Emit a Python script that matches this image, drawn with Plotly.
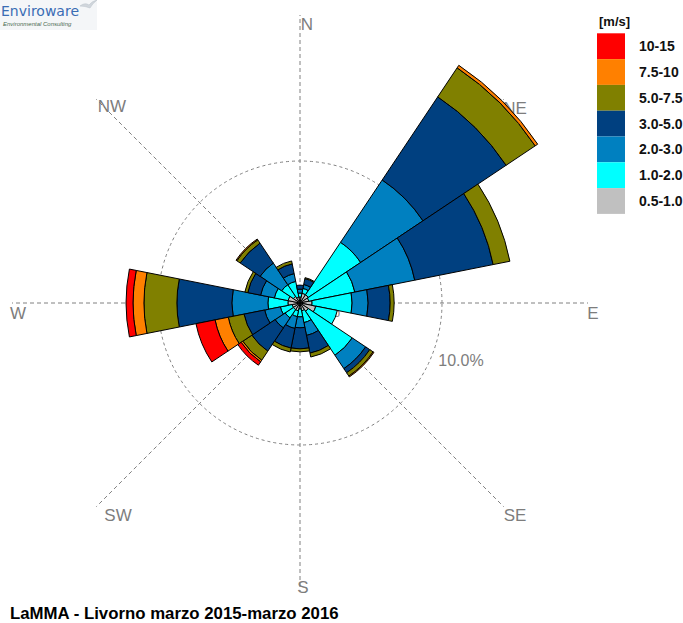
import plotly.graph_objects as go

# ---- data -------------------------------------------------------------
DIRECTIONS = ["N", "NNE", "NE", "ENE", "E", "ESE", "SE", "SSE",
              "S", "SSW", "SW", "WSW", "W", "WNW", "NW", "NNW"]
SPEED_CLASSES = ["0.5-1.0", "1.0-2.0", "2.0-3.0", "3.0-5.0", "5.0-7.5", "7.5-10", "10-15"]
CLASS_COLORS = ["#C0C0C0", "#00FFFF", "#0080C0", "#004080", "#808000", "#FF8000", "#FF0000"]

# frequency (%) of each speed class, per direction sector
FREQ_05_10 = [0.42, 0.70, 0.70, 0.63, 0.85, 1.13, 0.70, 0.56, 0.42, 0.56, 0.56, 0.56, 0.85, 0.85, 0.56, 0.42]
FREQ_10_20 = [0.28, 0.35, 4.44, 3.31, 2.82, 1.55, 3.73, 0.85, 0.56, 0.42, 0.70, 0.85, 1.41, 0.99, 0.99, 1.13]
FREQ_20_30 = [0.28, 0.28, 5.28, 4.30, 1.13, 0.00, 1.13, 0.92, 0.77, 0.85, 0.85, 1.13, 2.54, 0.99, 1.83, 0.56]
FREQ_30_50 = [0.28, 0.42, 7.04, 5.63, 1.55, 0.00, 0.35, 1.27, 1.48, 1.41, 1.97, 1.48, 3.87, 0.92, 1.69, 0.70]
FREQ_50_75 = [0.00, 0.07, 2.46, 1.20, 0.28, 0.00, 0.28, 0.28, 0.21, 0.28, 0.77, 1.13, 2.32, 0.21, 0.28, 0.21]
FREQ_75_10 = [0.00, 0.00, 0.21, 0.00, 0.00, 0.00, 0.07, 0.00, 0.00, 0.00, 0.14, 0.95, 0.77, 0.00, 0.07, 0.00]
FREQ_10_15 = [0.00, 0.00, 0.00, 0.00, 0.00, 0.00, 0.00, 0.00, 0.00, 0.00, 0.28, 1.37, 0.49, 0.00, 0.00, 0.00]

CLASS_FREQS = [FREQ_05_10, FREQ_10_20, FREQ_20_30, FREQ_30_50, FREQ_50_75, FREQ_75_10, FREQ_10_15]

RING_VALUES = [0.0, 10.0]
COMPASS = ["N", "NE", "E", "SE", "S", "SW", "W", "NW"]
TITLE = "LaMMA - Livorno marzo 2015-marzo 2016"

# ---- layout constants (pixels) -----------------------------------------
W, H = 683, 623
CX, CY = 300, 303          # rose centre
PX_PER_PCT = 14.2          # radial scale
R_PX = 288                 # length of the compass spokes
R_MAX = R_PX / PX_PER_PCT
SECTOR = 360 / len(DIRECTIONS)
theta = [i * SECTOR for i in range(len(DIRECTIONS))]

FONT = "Arial, Liberation Sans, sans-serif"
GREY = "#7d7d7d"

fig = go.Figure()

# text that sits underneath the rose (cartesian layer is drawn below polar)
compass_xy = {"N": (307, 26), "NE": (515, 110), "E": (593, 315), "SE": (515, 517),
              "S": (303, 589), "SW": (118, 517), "W": (18, 315), "NW": (112, 108)}
ring_xy = [(322, 313), (461, 362)]

fig.add_trace(go.Scatter(
    x=[compass_xy[c][0] for c in COMPASS] + [p[0] for p in ring_xy],
    y=[compass_xy[c][1] for c in COMPASS] + [p[1] for p in ring_xy],
    text=COMPASS + [f"{v:.1f}%" for v in RING_VALUES],
    mode="text",
    textposition="middle center",
    textfont=dict(family=FONT, size=[17] * len(COMPASS) + [16] * len(RING_VALUES), color=GREY),
    hoverinfo="skip", showlegend=False,
))

# stacked sectors, calmest class innermost
for name, color, freq in zip(SPEED_CLASSES, CLASS_COLORS, CLASS_FREQS):
    fig.add_trace(go.Barpolar(
        r=freq, theta=theta, width=[SECTOR] * len(theta),
        name=name, marker=dict(color=color, line=dict(color="black", width=1)),
        showlegend=False, hovertemplate="%{customdata}: %{r:.2f}%<extra>" + name + "</extra>",
        customdata=DIRECTIONS,
    ))

# legend drawn as colour blocks
shapes = []
annotations = []
box_top, box_h = 33.3, 25.8
for i, (name, color) in enumerate(zip(reversed(SPEED_CLASSES), reversed(CLASS_COLORS))):
    y0 = box_top + i * box_h
    shapes.append(dict(type="rect", xref="x", yref="y", x0=597, x1=625, y0=y0, y1=y0 + box_h,
                       fillcolor=color, line=dict(width=0), layer="above"))
    annotations.append(dict(x=637, y=y0 + box_h / 2, xref="x", yref="y", text=name,
                            showarrow=False, xanchor="left", yanchor="middle",
                            font=dict(family=FONT, size=14, color="#111111", weight="bold")))
annotations.append(dict(x=597, y=21, xref="x", yref="y", text="[m/s]", showarrow=False,
                        xanchor="left", yanchor="middle",
                        font=dict(family=FONT, size=13, color="#111111", weight="bold")))

# chart title
annotations.append(dict(x=8, y=613, xref="x", yref="y", text=TITLE, showarrow=False,
                        xanchor="left", yanchor="middle",
                        font=dict(family=FONT, size=16.8, color="#000000", weight="bold")))

# company logo
shapes.append(dict(type="rect", xref="x", yref="y", x0=0, x1=97, y0=0, y1=30,
                   fillcolor="#f4f6f8", line=dict(width=0), layer="below"))
shapes.append(dict(type="path", xref="x", yref="y",
                   path="M 80 6 Q 85 2 89 5 Q 92 1 97 0 Q 92 4 90 8 Q 85 6 80 6 Z",
                   fillcolor="#d0d6dc", line=dict(color="#b8c0c8", width=0.5), layer="above"))
annotations.append(dict(x=0, y=11, xref="x", yref="y", xshift=-1, text="Enviroware", showarrow=False,
                        xanchor="left", yanchor="middle",
                        font=dict(family="DejaVu Sans, sans-serif", size=14, color="#3a6db4")))
annotations.append(dict(x=1, y=24, xref="x", yref="y", text="<i>Environmental Consulting</i>",
                        showarrow=False, xanchor="left", yanchor="middle",
                        font=dict(family=FONT, size=6, color="#4a6a50")))

fig.update_layout(
    width=W, height=H,
    margin=dict(l=0, r=0, t=0, b=0),
    paper_bgcolor="white", plot_bgcolor="white",
    xaxis=dict(range=[0, W], domain=[0, 1], visible=False, fixedrange=True),
    yaxis=dict(range=[H, 0], domain=[0, 1], visible=False, fixedrange=True),
    polar=dict(
        domain=dict(x=[(CX - R_PX) / W, (CX + R_PX) / W],
                    y=[(H - CY - R_PX) / H, (H - CY + R_PX) / H]),
        bgcolor="rgba(0,0,0,0)",
        barmode="stack",
        radialaxis=dict(range=[0, R_MAX], tickvals=[v for v in RING_VALUES if v > 0],
                        showticklabels=False, ticks="", showline=False,
                        showgrid=True, gridcolor="#808080", gridwidth=1, griddash="3px,3px"),
        angularaxis=dict(rotation=90, direction="clockwise", thetaunit="degrees",
                         tickvals=[0, 45, 90, 135, 180, 225, 270, 315],
                         showticklabels=False, ticks="", showline=False,
                         showgrid=True, gridcolor="#808080", gridwidth=1, griddash="4px,3px"),
    ),
    shapes=shapes,
    annotations=annotations,
)

fig.write_html("out.html")
